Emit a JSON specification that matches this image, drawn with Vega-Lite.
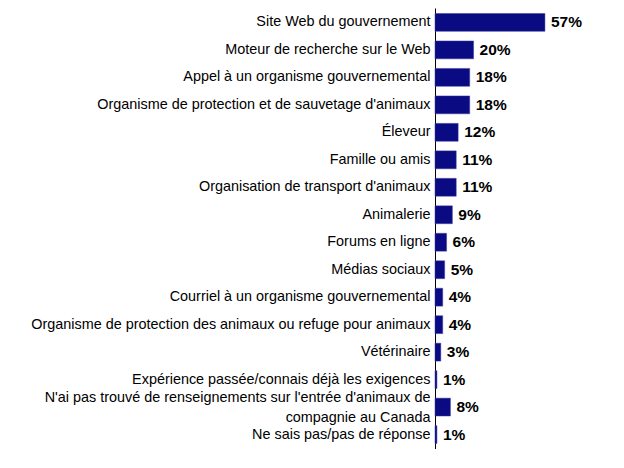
{
  "$schema": "https://vega.github.io/schema/vega-lite/v6.json",
  "autosize": {"type": "none"},
  "padding": {"left": 435, "top": 8, "right": 0, "bottom": 0},
  "width": 189,
  "height": 441,
  "background": "white",
  "config": {"view": {"stroke": null}, "font": "Liberation Sans"},
  "data": {"values": [
    {"source": "Site Web du gouvernement", "pct": 0.57},
    {"source": "Moteur de recherche sur le Web", "pct": 0.20},
    {"source": "Appel à un organisme gouvernemental", "pct": 0.18},
    {"source": "Organisme de protection et de sauvetage d'animaux", "pct": 0.18},
    {"source": "Éleveur", "pct": 0.12},
    {"source": "Famille ou amis", "pct": 0.11},
    {"source": "Organisation de transport d'animaux", "pct": 0.11},
    {"source": "Animalerie", "pct": 0.09},
    {"source": "Forums en ligne", "pct": 0.06},
    {"source": "Médias sociaux", "pct": 0.05},
    {"source": "Courriel à un organisme gouvernemental", "pct": 0.04},
    {"source": "Organisme de protection des animaux ou refuge pour animaux", "pct": 0.04},
    {"source": "Vétérinaire", "pct": 0.03},
    {"source": "Expérience passée/connais déjà les exigences", "pct": 0.01},
    {"source": "N'ai pas trouvé de renseignements sur l'entrée d'animaux de compagnie au Canada", "pct": 0.08},
    {"source": "Ne sais pas/pas de réponse", "pct": 0.01}
  ]},
  "encoding": {
    "y": {
      "field": "source", "type": "nominal", "sort": null,
      "scale": {"paddingInner": 0.35, "paddingOuter": 0.2},
      "axis": {
        "title": null, "ticks": false, "domainColor": "#000000", "domainWidth": 1,
        "labelFontSize": 14.4, "labelColor": "#000000", "labelPadding": 5, "labelLimit": 500,
        "labelLineHeight": 20,
        "labelOffset": {"condition": {"test": "test(/compagnie au Canada/, datum.value)", "value": -9}, "value": 0},
        "labelExpr": "test(/compagnie au Canada/, datum.value) ? [\"N'ai pas trouvé de renseignements sur l'entrée d'animaux de\", 'compagnie au Canada'] : datum.value"
      }
    },
    "x": {
      "field": "pct", "type": "quantitative",
      "scale": {"domain": [0, 0.98]},
      "axis": null
    }
  },
  "layer": [
    {"mark": {"type": "bar", "color": "#0a0a82", "stroke": "#3a3aa0", "strokeWidth": 0.5}},
    {"mark": {"type": "text", "align": "left", "dx": 6, "fontWeight": "bold", "fontSize": 15.5, "color": "#000000"},
     "encoding": {"text": {"field": "pct", "type": "quantitative", "format": ".0%"}}
    }
  ]
}
